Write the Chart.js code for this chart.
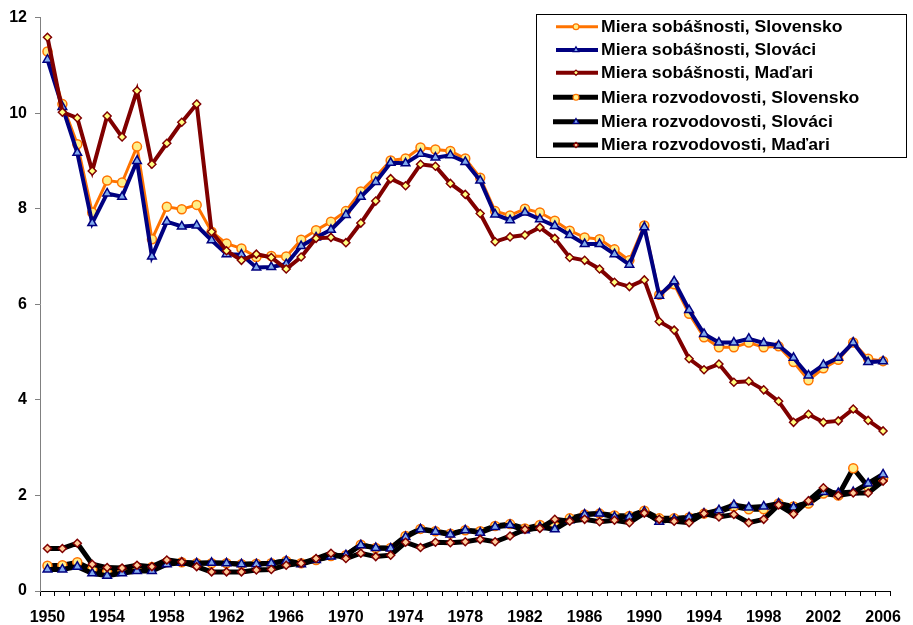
<!DOCTYPE html>
<html>
<head>
<meta charset="utf-8">
<script src="https://cdn.jsdelivr.net/npm/chart.js@4.4.1/dist/chart.umd.min.js"></script>
<style>
  body { margin: 0; background: #fff; }
  #wrap { width: 913px; height: 625px; }
</style>
</head>
<body>
<div id="wrap"><canvas id="chart" width="913" height="625"></canvas></div>
<script>
// Years on the x axis
const years = [];
for (let y = 1950; y <= 2006; y++) years.push(String(y));

const yTicks = [0, 2, 4, 6, 8, 10, 12];

// Marriage rates (miera sobášnosti)
const sobSlovensko = [
  11.29, 10.19, 9.35, 7.92, 8.59, 8.55, 9.30, 7.36, 8.04, 7.99,
  8.08, 7.52, 7.27, 7.17, 6.99, 7.01, 7.00, 7.35, 7.55, 7.73,
  7.95, 8.36, 8.67, 9.01, 9.05, 9.28, 9.24, 9.21, 9.05, 8.65,
  7.95, 7.86, 8.00, 7.92, 7.75, 7.54, 7.40, 7.36, 7.15, 6.92,
  7.65, 6.20, 6.42, 5.80, 5.31, 5.10, 5.10, 5.20, 5.10, 5.12,
  4.79, 4.41, 4.66, 4.84, 5.20, 4.86, 4.81
];
const sobSlovaci = [
  11.12, 10.13, 9.17, 7.70, 8.32, 8.25, 9.00, 7.00, 7.73, 7.63,
  7.65, 7.34, 7.05, 7.04, 6.77, 6.78, 6.84, 7.22, 7.40, 7.56,
  7.87, 8.25, 8.56, 8.96, 8.95, 9.15, 9.07, 9.12, 8.98, 8.59,
  7.88, 7.76, 7.92, 7.78, 7.64, 7.45, 7.26, 7.26, 7.05, 6.83,
  7.61, 6.18, 6.48, 5.88, 5.38, 5.20, 5.20, 5.28, 5.19, 5.14,
  4.88, 4.51, 4.73, 4.88, 5.20, 4.79, 4.81
];
const sobMadari = [
  11.59, 10.02, 9.90, 8.79, 9.94, 9.50, 10.47, 8.93, 9.37, 9.81,
  10.19, 7.52, 7.12, 6.92, 7.05, 6.98, 6.74, 6.99, 7.38, 7.40,
  7.29, 7.70, 8.16, 8.63, 8.48, 8.93, 8.89, 8.53, 8.30, 7.90,
  7.31, 7.41, 7.45, 7.61, 7.38, 6.98, 6.92, 6.74, 6.46, 6.37,
  6.51, 5.64, 5.46, 4.86, 4.63, 4.75, 4.37, 4.39, 4.21, 3.97,
  3.53, 3.70, 3.53, 3.56, 3.81, 3.57, 3.35
];

// Divorce rates (miera rozvodovosti)
const rozSlovensko = [
  0.53, 0.54, 0.60, 0.45, 0.40, 0.45, 0.50, 0.50, 0.60, 0.60,
  0.58, 0.58, 0.58, 0.56, 0.57, 0.58, 0.63, 0.58, 0.65, 0.73,
  0.75, 0.97, 0.90, 0.90, 1.15, 1.30, 1.25, 1.20, 1.27, 1.25,
  1.36, 1.40, 1.31, 1.38, 1.36, 1.52, 1.60, 1.62, 1.58, 1.57,
  1.68, 1.52, 1.52, 1.54, 1.62, 1.66, 1.77, 1.71, 1.71, 1.83,
  1.77, 1.83, 2.04, 2.00, 2.57, 2.18, 2.35
];
const rozSlovaci = [
  0.45, 0.45, 0.51, 0.37, 0.32, 0.37, 0.42, 0.42, 0.56, 0.59,
  0.58, 0.59, 0.58, 0.56, 0.56, 0.58, 0.63, 0.56, 0.65, 0.72,
  0.75, 0.96, 0.90, 0.89, 1.13, 1.29, 1.24, 1.18, 1.27, 1.22,
  1.34, 1.38, 1.27, 1.34, 1.29, 1.48, 1.60, 1.62, 1.55, 1.55,
  1.66, 1.45, 1.50, 1.54, 1.62, 1.69, 1.80, 1.75, 1.77, 1.83,
  1.75, 1.86, 2.07, 2.05, 2.07, 2.25, 2.44
];
const rozMadari = [
  0.89, 0.89, 1.00, 0.56, 0.49, 0.48, 0.54, 0.51, 0.65, 0.61,
  0.51, 0.40, 0.40, 0.40, 0.44, 0.45, 0.54, 0.58, 0.68, 0.79,
  0.68, 0.79, 0.72, 0.75, 1.02, 0.91, 1.02, 1.01, 1.03, 1.08,
  1.03, 1.15, 1.29, 1.31, 1.50, 1.46, 1.50, 1.45, 1.48, 1.43,
  1.63, 1.50, 1.46, 1.43, 1.62, 1.55, 1.60, 1.43, 1.50, 1.80,
  1.61, 1.89, 2.16, 2.00, 2.05, 2.05, 2.30
];

const seriesLabels = [
  "Miera sobášnosti, Slovensko",
  "Miera sobášnosti, Slováci",
  "Miera sobášnosti, Maďari",
  "Miera rozvodovosti, Slovensko",
  "Miera rozvodovosti, Slováci",
  "Miera rozvodovosti, Maďari"
];

const FONT = "'Liberation Sans', Arial, sans-serif";

// marker presets
const circleMk = { pointStyle: "circle", pointRadius: 4.5, pointBorderWidth: 1.5, pointBorderColor: "#ff7300", pointBackgroundColor: "#ffee88" };
const triMk = { pointStyle: "triangle", pointRadius: 5, pointBorderWidth: 1.5, pointBorderColor: "#000080", pointBackgroundColor: "#80aaee" };
const diaMk = { pointStyle: "rectRot", pointRadius: 4, pointBorderWidth: 1.5, pointBorderColor: "#800000", pointBackgroundColor: "#ffff80" };
const diaMk2 = Object.assign({}, diaMk, { pointBackgroundColor: "#ffcc99" });

function makeSet(i, data, color, width, mk) {
  return Object.assign({
    label: seriesLabels[i],
    data: data,
    borderColor: color,
    borderWidth: width,
    tension: 0,
    fill: false,
    order: 5 - i
  }, mk);
}

const datasets = [
  makeSet(0, sobSlovensko, "#ff7300", 3, circleMk),
  makeSet(1, sobSlovaci, "#000080", 4, triMk),
  makeSet(2, sobMadari, "#800000", 4, diaMk),
  makeSet(3, rozSlovensko, "#000000", 5, circleMk),
  makeSet(4, rozSlovaci, "#000000", 5, triMk),
  makeSet(5, rozMadari, "#000000", 5, diaMk2)
];

// Legend box in the top right corner, drawn by hand
const boxLegend = {
  id: "boxLegend",
  afterDraw(chart) {
    const ctx = chart.ctx;
    const x0 = 536, y0 = 14, w = 370, h = 143;
    ctx.save();
    ctx.fillStyle = "#fff";
    ctx.fillRect(x0, y0, w, h);
    ctx.strokeStyle = "#000";
    ctx.lineWidth = 1;
    ctx.strokeRect(x0 + 0.5, y0 + 0.5, w, h);

    const rows = [26.7, 50, 72.7, 97.3, 121.7, 145];
    chart.data.datasets.forEach((ds, i) => {
      const cy = rows[i];
      ctx.strokeStyle = ds.borderColor;
      ctx.lineWidth = ds.borderWidth;
      ctx.beginPath();
      ctx.moveTo(i < 3 ? 556 : 553, cy);
      ctx.lineTo(598, cy);
      ctx.stroke();

      ctx.fillStyle = ds.pointBackgroundColor;
      ctx.strokeStyle = ds.pointBorderColor;
      ctx.lineWidth = 1.2;
      Chart.helpers.drawPoint(ctx, {
        pointStyle: ds.pointStyle,
        radius: ds.pointRadius * 0.65,
        borderWidth: 1.2,
        rotation: 0
      }, 576, cy);

      ctx.save();
      ctx.translate(601, cy);
      ctx.scale(1.1, 1);
      ctx.fillStyle = "#000";
      ctx.font = "bold 16px " + FONT;
      ctx.textBaseline = "middle";
      ctx.textAlign = "left";
      ctx.fillText(ds.label, 0, 1);
      ctx.restore();
    });
    ctx.restore();
  }
};

const ctx = document.getElementById("chart").getContext("2d");
new Chart(ctx, {
  type: "line",
  data: { labels: years, datasets: datasets },
  plugins: [boxLegend],
  options: {
    responsive: false,
    animation: false,
    layout: { padding: { top: 17, right: 15, left: 0, bottom: 0 } },
    plugins: {
      legend: { display: false },
      tooltip: { enabled: false }
    },
    scales: {
      x: {
        type: "category",
        offset: true,
        grid: {
          offset: true,
          drawOnChartArea: false,
          drawTicks: true,
          tickLength: 5,
          color: "#000"
        },
        border: { color: "#000", width: 1 },
        ticks: {
          autoSkip: false,
          maxRotation: 0,
          minRotation: 0,
          padding: 12,
          color: "#000",
          font: { family: FONT, size: 16, weight: "bold" },
          callback: function (val, idx) {
            const yr = Number(this.getLabelForValue(val));
            return (yr - 1950) % 4 === 0 ? String(yr) : "";
          }
        },
        afterFit(scale) { scale.height = 34; }
      },
      y: {
        min: yTicks[0],
        max: yTicks[yTicks.length - 1],
        grid: {
          drawOnChartArea: false,
          drawTicks: true,
          tickLength: 5,
          color: "#808080"
        },
        border: { color: "#808080", width: 1 },
        ticks: {
          stepSize: 2,
          padding: 8,
          color: "#000",
          font: { family: FONT, size: 16, weight: "bold" }
        },
        afterFit(scale) { scale.width = 40; }
      }
    }
  }
});
</script>
</body>
</html>
